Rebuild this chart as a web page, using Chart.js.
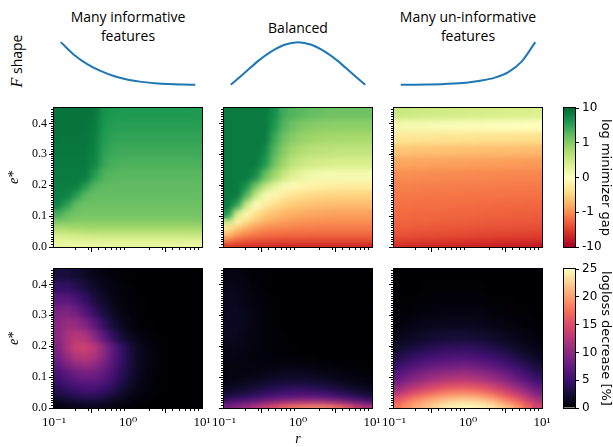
<!DOCTYPE html>
<html>
<head>
<meta charset="utf-8">
<script src="https://cdn.jsdelivr.net/npm/chart.js@4.4.1/dist/chart.umd.min.js"></script>
<style>
  html, body { margin: 0; padding: 0; background: #fff; }
  #fig { position: relative; width: 613px; height: 447px; overflow: hidden; }
  #fig canvas { position: absolute; left: 0; top: 0; }
  .ttl { position: absolute; width: 170px; font-family: 'Open Sans', sans-serif; font-size: 14px;
         line-height: 19px; text-align: center; color: #000; white-space: nowrap; }
  #fshape { position: absolute; left: -28px; top: 51px; width: 90px; height: 20px; line-height: 20px;
            text-align: center; transform: rotate(-90deg); font-family: 'Open Sans', sans-serif;
            font-size: 14px; white-space: nowrap; }
  #fshape i { font-family: 'Liberation Serif', serif; font-size: 16px; }
</style>
</head>
<body>
<div id="fig">
  <div class="ttl" style="left:43px;top:7px">Many informative<br>features</div>
  <div class="ttl" style="left:213px;top:18px">Balanced</div>
  <div class="ttl" style="left:383px;top:7px">Many un-informative<br>features</div>
  <div id="fshape"><i>F</i> shape</div>
</div>
<script>
// grid of the heatmaps: r column centres (log spaced) and e* row edges
const rCenters = [0.115, 0.154, 0.205, 0.274, 0.365, 0.487, 0.649, 0.866, 1.155, 1.54, 2.05, 2.74, 3.65, 4.87, 6.49, 8.66];
const eEdges = [0, 0.01, 0.02, 0.035, 0.05, 0.07, 0.09, 0.12, 0.15, 0.18, 0.21, 0.25, 0.29, 0.33, 0.37, 0.41, 0.45];
const yTicks = [0, 0.1, 0.2, 0.3, 0.4];
const xTicks = [0.1, 1, 10];
const xTickLabels = ['10⁻¹', '10⁰', '10¹'];
const gapTicks = [-10, -1, 0, 1, 10];
const decTicks = [0, 5, 10, 15, 20, 25];

// F shape curves
const fShapeX = [0, 0.1, 0.2, 0.3, 0.4, 0.5, 0.6, 0.7, 0.8, 0.9, 1];
const fMany = [1.0, 0.70, 0.48, 0.32, 0.20, 0.12, 0.07, 0.04, 0.02, 0.008, 0];
const fBalanced = [0, 0.27, 0.55, 0.78, 0.94, 1, 0.94, 0.78, 0.55, 0.27, 0];
const fUninf = [0, 0.003, 0.008, 0.015, 0.03, 0.055, 0.1, 0.17, 0.3, 0.55, 1.0];

// log minimizer gap, rows from e*=0 upwards
const gapMany = [
  [0.18,0.18,0.19,0.19,0.2,0.2,0.2,0.2,0.2,0.2,0.2,0.2,0.19,0.19,0.18,0.18],
  [0.24,0.25,0.26,0.27,0.28,0.29,0.3,0.3,0.3,0.3,0.3,0.3,0.3,0.3,0.3,0.3],
  [0.34,0.36,0.38,0.4,0.41,0.42,0.42,0.42,0.42,0.42,0.42,0.42,0.42,0.42,0.42,0.42],
  [0.5,0.53,0.56,0.58,0.6,0.6,0.6,0.6,0.6,0.6,0.6,0.6,0.6,0.6,0.6,0.6],
  [0.75,0.78,0.8,0.82,0.82,0.82,0.82,0.82,0.82,0.82,0.82,0.82,0.82,0.82,0.82,0.82],
  [1.1,1.05,1,1,1,1,1,1,1,1,1,1,1,1,1,1],
  [2.5,1.6,1.3,1.26,1.26,1.26,1.26,1.26,1.26,1.26,1.26,1.26,1.26,1.26,1.26,1.26],
  [6,3.2,1.6,1.45,1.45,1.45,1.45,1.45,1.45,1.45,1.45,1.45,1.45,1.45,1.45,1.45],
  [6.3,6.3,3.5,1.8,1.6,1.6,1.6,1.6,1.6,1.6,1.6,1.6,1.6,1.6,1.6,1.6],
  [6.6,6.6,6.6,3.5,1.9,1.7,1.68,1.68,1.68,1.68,1.68,1.68,1.68,1.68,1.68,1.68],
  [7,7,7,7,3.5,2.1,1.9,1.85,1.85,1.85,1.85,1.85,1.85,1.85,1.85,1.85],
  [7.2,7.2,7.2,7.2,5.5,2.8,2.3,2.2,2.2,2.2,2.2,2.2,2.2,2.2,2.2,2.2],
  [7.4,7.4,7.4,7.4,6,3.2,2.7,2.6,2.6,2.6,2.6,2.6,2.6,2.6,2.6,2.6],
  [7.6,7.6,7.6,7.6,6.5,3.6,3.1,3,3,3,3,3,3,3,3,3],
  [7.9,7.9,7.9,7.9,7,4,3.5,3.4,3.4,3.4,3.4,3.4,3.4,3.4,3.4,3.4],
  [7.9,7.9,7.9,7.9,7.5,4.5,3.9,3.8,3.8,3.8,3.8,3.8,3.8,3.8,3.8,3.8]
];
const gapBalanced = [
  [-3.5,-3.8,-4,-4.2,-4.4,-4.6,-4.8,-5,-5,-5,-5,-5,-5,-5,-5,-5],
  [-1.6,-2,-2.4,-2.6,-2.7,-2.8,-2.8,-2.8,-2.8,-2.8,-2.8,-2.8,-2.8,-2.8,-2.8,-2.8],
  [-0.9,-1.26,-1.6,-1.8,-1.95,-2.05,-2.1,-2.1,-2.1,-2.1,-2.1,-2.1,-2.1,-2.1,-2.1,-2.1],
  [-0.6,-0.85,-1,-1.2,-1.35,-1.45,-1.52,-1.58,-1.62,-1.64,-1.66,-1.66,-1.66,-1.66,-1.66,-1.66],
  [-0.3,-0.55,-0.75,-0.9,-1,-1.07,-1.12,-1.16,-1.2,-1.22,-1.24,-1.26,-1.26,-1.26,-1.26,-1.26],
  [0.5,-0.12,-0.42,-0.62,-0.75,-0.84,-0.9,-0.94,-0.96,-0.98,-0.99,-1,-1,-1,-1,-1],
  [4,0.4,-0.1,-0.38,-0.55,-0.66,-0.74,-0.79,-0.82,-0.84,-0.86,-0.87,-0.88,-0.88,-0.88,-0.88],
  [7.1,3.2,0.5,0,-0.22,-0.4,-0.5,-0.57,-0.61,-0.64,-0.66,-0.67,-0.68,-0.68,-0.68,-0.68],
  [7.1,7.1,2,0.55,0.1,-0.1,-0.25,-0.35,-0.41,-0.45,-0.47,-0.48,-0.49,-0.5,-0.5,-0.5],
  [7.1,7.1,4.5,1.26,0.6,0.3,0.1,-0.05,-0.12,-0.17,-0.2,-0.22,-0.23,-0.24,-0.25,-0.25],
  [7.1,7.1,7.1,5,1.6,0.85,0.55,0.35,0.22,0.16,0.13,0.11,0.1,0.1,0.1,0.1],
  [7.1,7.1,7.1,7.1,4,1.4,0.85,0.62,0.52,0.46,0.43,0.41,0.4,0.4,0.4,0.4],
  [7.1,7.1,7.1,7.1,5.6,2,1,0.82,0.72,0.66,0.63,0.61,0.6,0.6,0.6,0.6],
  [7.1,7.1,7.1,7.1,7.1,2.8,1.4,1,0.9,0.85,0.82,0.8,0.79,0.78,0.78,0.78],
  [7.1,7.1,7.1,7.1,7.1,4,2,1.4,1.12,1,0.97,0.96,0.95,0.95,0.95,0.95],
  [7.1,7.1,7.1,7.1,7.1,5,2.5,2,1.8,1.6,1.5,1.4,1.4,1.4,1.4,1.4]
];
const gapUninf = [
  [-4.5,-4.6,-4.7,-4.8,-4.9,-5,-5.1,-5.2,-5.3,-5.4,-5.5,-5.6,-5.8,-6,-6.1,-6.3],
  [-3.2,-3.28,-3.36,-3.44,-3.52,-3.6,-3.68,-3.76,-3.84,-3.92,-4,-4.1,-4.2,-4.3,-4.4,-4.5],
  [-2.6,-2.66,-2.72,-2.78,-2.84,-2.9,-2.96,-3.02,-3.08,-3.14,-3.2,-3.26,-3.32,-3.38,-3.44,-3.5],
  [-2.24,-2.28,-2.33,-2.38,-2.43,-2.48,-2.53,-2.58,-2.63,-2.68,-2.73,-2.78,-2.83,-2.88,-2.92,-2.95],
  [-2,-2.03,-2.07,-2.1,-2.14,-2.18,-2.22,-2.26,-2.3,-2.33,-2.36,-2.4,-2.43,-2.46,-2.48,-2.5],
  [-1.8,-1.82,-1.85,-1.88,-1.9,-1.93,-1.96,-1.99,-2.02,-2.05,-2.08,-2.1,-2.13,-2.16,-2.18,-2.2],
  [-1.66,-1.68,-1.7,-1.72,-1.74,-1.76,-1.78,-1.8,-1.82,-1.84,-1.86,-1.88,-1.9,-1.92,-1.94,-1.95],
  [-1.5,-1.5,-1.52,-1.54,-1.55,-1.57,-1.59,-1.6,-1.62,-1.64,-1.66,-1.68,-1.7,-1.71,-1.73,-1.74],
  [-1.35,-1.36,-1.37,-1.38,-1.39,-1.4,-1.41,-1.42,-1.43,-1.44,-1.45,-1.46,-1.47,-1.48,-1.49,-1.5],
  [-1.2,-1.2,-1.21,-1.22,-1.23,-1.24,-1.25,-1.26,-1.27,-1.28,-1.29,-1.3,-1.3,-1.31,-1.32,-1.32],
  [-1,-1,-1.01,-1.02,-1.03,-1.04,-1.05,-1.06,-1.07,-1.08,-1.09,-1.1,-1.1,-1.11,-1.12,-1.12],
  [-0.85,-0.85,-0.86,-0.86,-0.87,-0.87,-0.88,-0.88,-0.89,-0.89,-0.9,-0.9,-0.91,-0.91,-0.92,-0.92],
  [-0.62,-0.62,-0.63,-0.64,-0.64,-0.65,-0.65,-0.66,-0.66,-0.67,-0.67,-0.68,-0.68,-0.69,-0.69,-0.7],
  [-0.3,-0.31,-0.32,-0.33,-0.34,-0.35,-0.35,-0.36,-0.36,-0.37,-0.37,-0.38,-0.38,-0.39,-0.39,-0.4],
  [0.12,0.11,0.1,0.09,0.08,0.07,0.06,0.05,0.05,0.04,0.03,0.02,0.02,0.01,0,0],
  [0.52,0.51,0.5,0.49,0.48,0.47,0.46,0.45,0.44,0.43,0.42,0.41,0.4,0.4,0.39,0.38]
];

// logloss decrease [%], rows from e*=0 upwards
const decMany = [
  [0.5,0.8,1,1.2,1.2,1,0.7,0.4,0.2,0.1,0,0,0,0,0,0],
  [1.2,1.6,2,2.2,2.2,1.8,1.2,0.7,0.4,0.2,0.1,0,0,0,0,0],
  [2,2.6,3,3.3,3.3,2.8,2,1.2,0.6,0.3,0.1,0,0,0,0,0],
  [3,3.6,4.2,4.5,4.5,3.8,2.8,1.8,0.9,0.4,0.2,0.1,0,0,0,0],
  [3.8,4.6,5.3,5.7,5.6,4.9,3.8,2.5,1.4,0.7,0.3,0.1,0,0,0,0],
  [4.6,5.6,6.4,6.9,6.8,6,4.6,3.1,1.8,0.9,0.4,0.1,0,0,0,0],
  [5.4,6.6,7.6,8.2,8,7,5.4,3.6,2.1,1.1,0.5,0.2,0,0,0,0],
  [7,8.6,10,10.6,10,8.4,6.2,4.1,2.4,1.2,0.6,0.2,0,0,0,0],
  [8.4,10.6,12.3,12.8,11.8,9.6,6.9,4.5,2.5,1.2,0.6,0.2,0,0,0,0],
  [9.2,11.8,13.6,14,12.6,9.8,6.9,4.3,2.4,1.2,0.6,0.2,0,0,0,0],
  [9.6,11.6,12.6,11.8,9.6,6.8,4.2,2.4,1.2,0.6,0.2,0.1,0,0,0,0],
  [9.6,10.6,10.4,9,6.8,4.4,2.5,1.2,0.5,0.2,0.1,0,0,0,0,0],
  [8.8,9.1,8.2,6.3,4.4,2.7,1.4,0.7,0.3,0.1,0,0,0,0,0,0],
  [6.8,6.8,5.8,4.3,2.9,1.7,0.9,0.4,0.2,0.1,0,0,0,0,0,0],
  [4.5,4.4,3.7,2.7,1.8,1.1,0.6,0.3,0.1,0,0,0,0,0,0,0],
  [2.8,2.7,2.2,1.6,1,0.6,0.3,0.1,0,0,0,0,0,0,0,0]
];
const decBalanced = [
  [9,10,11,12.5,14,15.5,17,18,18.5,19,19,18.5,17.5,16,14,12],
  [6.5,7.3,8.2,9,10,10.8,11.6,12.2,12.6,12.8,12.6,12,11,9.8,8.5,7.4],
  [4,4.6,5.2,5.8,6.5,7.2,7.8,8.2,8.4,8.4,8.1,7.6,6.8,6,5,4.2],
  [2.6,3,3.5,4,4.6,5.2,5.7,6,6.1,6,5.7,5.2,4.5,3.8,3.1,2.5],
  [1.6,1.9,2.3,2.7,3.2,3.7,4.1,4.3,4.3,4.1,3.8,3.3,2.8,2.3,1.8,1.4],
  [0.9,1.1,1.4,1.7,2.1,2.4,2.7,2.8,2.8,2.6,2.3,2,1.6,1.2,0.9,0.7],
  [0.6,0.6,0.7,0.9,1.1,1.3,1.5,1.5,1.5,1.4,1.2,1,0.8,0.6,0.4,0.3],
  [0.6,0.5,0.5,0.5,0.5,0.6,0.6,0.6,0.6,0.5,0.4,0.3,0.2,0.1,0.1,0.1],
  [0.9,0.8,0.6,0.4,0.3,0.2,0.2,0.2,0.1,0.1,0,0,0,0,0,0],
  [1.2,1,0.7,0.5,0.3,0.2,0.1,0.1,0,0,0,0,0,0,0,0],
  [1.5,1.3,0.9,0.6,0.3,0.2,0.1,0,0,0,0,0,0,0,0,0],
  [1.6,1.4,1,0.6,0.3,0.1,0,0,0,0,0,0,0,0,0,0],
  [1.6,1.4,1,0.6,0.3,0.1,0,0,0,0,0,0,0,0,0,0],
  [1.4,1.2,0.8,0.5,0.2,0.1,0,0,0,0,0,0,0,0,0,0],
  [1.1,0.9,0.6,0.3,0.1,0,0,0,0,0,0,0,0,0,0,0],
  [0.8,0.6,0.4,0.2,0.1,0,0,0,0,0,0,0,0,0,0,0]
];
const decUninf = [
  [18,19.5,21,22,23,24,24.5,24.8,24.8,24.5,24,23,21.5,19.5,17,14.5],
  [17,18.5,20,21,22,23,23.5,23.8,23.8,23.5,22.5,21,19.5,17.5,15.5,13],
  [15.5,17,18.5,19.5,20.5,21.3,21.8,22,21.8,21.3,20.3,19,17.3,15.5,13.5,11.2],
  [13,14.5,16,17,18,18.8,19.3,19.5,19.3,18.8,17.8,16.5,15,13.3,11.4,9.4],
  [10.8,12.2,13.5,14.6,15.5,16.2,16.6,16.8,16.6,16.1,15.2,14,12.6,11,9.4,7.6],
  [8.6,9.8,11,12,12.8,13.4,13.8,14,13.8,13.3,12.5,11.4,10.2,8.8,7.3,5.8],
  [6.8,7.8,8.8,9.6,10.3,10.8,11.1,11.2,11,10.6,9.9,9,7.9,6.7,5.5,4.2],
  [4.8,5.6,6.4,7.1,7.6,8,8.2,8.3,8.1,7.7,7.1,6.4,5.5,4.6,3.6,2.6],
  [3.2,3.8,4.5,5,5.4,5.7,5.9,6,5.8,5.5,5,4.4,3.7,2.9,2.2,1.5],
  [2,2.4,2.9,3.3,3.7,4,4.1,4.2,4.1,3.8,3.4,2.9,2.3,1.8,1.2,0.8],
  [1,1.3,1.6,1.9,2.2,2.4,2.5,2.5,2.4,2.2,1.9,1.6,1.2,0.9,0.6,0.4],
  [0.4,0.6,0.8,1,1.1,1.2,1.3,1.3,1.2,1.1,0.9,0.7,0.5,0.4,0.2,0.1],
  [0.2,0.2,0.3,0.4,0.5,0.5,0.6,0.6,0.5,0.5,0.4,0.3,0.2,0.1,0.1,0],
  [0.1,0.1,0.1,0.2,0.2,0.2,0.2,0.2,0.2,0.2,0.1,0.1,0.1,0,0,0],
  [0,0,0,0.1,0.1,0.1,0.1,0.1,0.1,0.1,0,0,0,0,0,0],
  [0,0,0,0,0,0,0,0,0,0,0,0,0,0,0,0]
];

// colour maps
const rdylgn = ['#a50026','#d73027','#f46d43','#fdae61','#fee08b','#ffffbf','#d9ef8b','#a6d96a','#66bd63','#1a9850','#006837'];
const magma = ['#000004','#140e36','#3b0f70','#641a80','#8c2981','#b73779','#de4968','#f7705c','#fe9f6d','#fecf92','#fcfdbf'];

function hex(h) { return [1, 3, 5].map(i => parseInt(h.substr(i, 2), 16)); }
function cmap(stops, t) {
  t = Math.min(1, Math.max(0, t));
  const f = t * (stops.length - 1);
  const i = Math.min(stops.length - 2, Math.floor(f));
  const a = hex(stops[i]), b = hex(stops[i + 1]), u = f - i;
  const c = a.map((v, k) => Math.round(v + (b[k] - v) * u));
  return `rgb(${c[0]},${c[1]},${c[2]})`;
}
function symlog(v) { const a = Math.abs(v); return Math.sign(v) * (a <= 1 ? a : 1 + Math.log10(a)); }
const gapColor = v => cmap(rdylgn, (symlog(v) + 2) / 4);
const decColor = v => cmap(magma, v / 25);

Chart.defaults.animation = false;
Chart.defaults.events = [];
Chart.defaults.responsive = false;
Chart.defaults.plugins.legend.display = false;
Chart.defaults.plugins.tooltip.enabled = false;

const W = 613, H = 447;
const serif = "'Liberation Serif', 'DejaVu Serif', serif";
const sans = "'DejaVu Sans', sans-serif";
const fig = document.getElementById('fig');

function newCtx() {
  const c = document.createElement('canvas');
  c.width = W; c.height = H;
  c.style.width = W + 'px'; c.style.height = H + 'px';
  fig.appendChild(c);
  return c.getContext('2d');
}

// soften the cell edges like an interpolated image (blurred copy laid over the sharp one)
const smoothPlugin = {
  id: 'smooth',
  afterDatasetsDraw(chart, args, opts) {
    if (!opts.blur) return;
    const { ctx, chartArea: a, canvas } = chart;
    const w = a.right - a.left, h = a.bottom - a.top;
    const off = document.createElement('canvas');
    off.width = canvas.width; off.height = canvas.height;
    off.getContext('2d').drawImage(canvas, 0, 0);
    ctx.save();
    ctx.beginPath(); ctx.rect(a.left, a.top, w, h); ctx.clip();
    ctx.filter = `blur(${opts.blur}px)`;
    ctx.drawImage(off, a.left, a.top, w, h, a.left, a.top, w, h);
    ctx.restore();
  }
};

// frame around the plot area plus minor ticks
const framePlugin = {
  id: 'frame',
  afterDraw(chart, args, opts) {
    const { ctx, chartArea: a } = chart;
    ctx.save();
    ctx.strokeStyle = '#000';
    ctx.lineWidth = 1;
    ctx.strokeRect(a.left - 0.5, a.top - 0.5, a.right - a.left + 1, a.bottom - a.top + 1);
    if (opts.minor) {
      const xs = chart.scales.x, ys = chart.scales.y;
      ctx.beginPath();
      for (const d of [0.1, 1]) {
        for (let k = 2; k < 10; k++) {
          const px = Math.round(xs.getPixelForValue(k * d)) - 0.5;
          ctx.moveTo(px, a.bottom); ctx.lineTo(px, a.bottom + 3);
        }
      }
      for (let i = 1; i < 60; i++) {
        const py = Math.round(ys.getPixelForValue(i * 0.0075)) - 0.5;
        ctx.moveTo(a.left, py); ctx.lineTo(a.left - 3, py);
      }
      ctx.stroke();
    }
    ctx.restore();
  }
};

function heatmap(x0, y0, values, colorOf, showY, showX, xTitle) {
  const rowH = eEdges.slice(1).map((e, i) => e - eEdges[i]);
  const xH = showX ? 40 : 20;
  const datasets = values.map((row, i) => ({
    data: rCenters.map(() => rowH[i]),
    backgroundColor: row.map(colorOf),
    xAxisID: 'xc', yAxisID: 'y',
    barPercentage: 1, categoryPercentage: 1,
    borderWidth: 0, inflateAmount: 0.7
  }));
  new Chart(newCtx(), {
    type: 'bar',
    data: { labels: rCenters.map(String), datasets },
    options: {
      layout: { padding: { left: x0 - 54, top: y0, right: W - x0 - 148, bottom: H - y0 - 139 - xH } },
      scales: {
        xc: { type: 'category', display: false, stacked: true, offset: true },
        x: {
          type: 'logarithmic', position: 'bottom', min: 0.1, max: 10,
          afterBuildTicks: s => { s.ticks = xTicks.map(v => ({ value: v })); },
          afterFit: s => { s.height = xH; },
          ticks: { callback: (v, i) => showX ? xTickLabels[i] : '', font: { family: serif, size: 13 },
                   color: '#000', padding: 2, maxRotation: 0, autoSkip: false },
          grid: { drawOnChartArea: false, tickLength: 5, color: '#000' },
          border: { display: false },
          title: { display: !!xTitle, text: xTitle || '', color: '#000',
                   font: { family: serif, size: 14, style: 'italic' }, padding: { top: 0, bottom: 0 } }
        },
        y: {
          type: 'linear', min: 0, max: 0.45, stacked: true,
          afterBuildTicks: s => { s.ticks = yTicks.map(v => ({ value: v })); },
          afterFit: s => { s.width = 54; },
          ticks: { callback: (v, i) => showY ? yTicks[i].toFixed(1) : '', font: { family: serif, size: 12 },
                   color: '#000', padding: 2 },
          grid: { drawOnChartArea: false, tickLength: 5, color: '#000' },
          border: { display: false },
          title: { display: showY, text: 'e*', color: '#000',
                   font: { family: serif, size: 14, style: 'italic' }, padding: { top: 6, bottom: 0 } }
        }
      },
      plugins: { frame: { minor: true }, smooth: { blur: 3 } }
    },
    plugins: [smoothPlugin, framePlugin]
  });
}

function shapeChart(x0, ys) {
  new Chart(newCtx(), {
    type: 'line',
    data: { datasets: [{
      data: fShapeX.map((x, i) => ({ x, y: ys[i] })),
      borderColor: '#1f77b4', borderWidth: 2, pointRadius: 0,
      cubicInterpolationMode: 'monotone', fill: false
    }] },
    options: {
      layout: { padding: { left: x0, right: W - x0 - 148, top: 40, bottom: H - 87 } },
      scales: {
        x: { type: 'linear', display: false, min: -0.05, max: 1.05 },
        y: { display: false, min: -0.05, max: 1.05 }
      }
    }
  });
}

function colorbar(y0, stops, lo, hi, tickPos, tickLabels, title) {
  new Chart(newCtx(), {
    type: 'bar',
    data: { labels: [''], datasets: [{
      data: [[lo, hi]],
      backgroundColor: c => {
        const a = c.chart.chartArea;
        if (!a) return 'transparent';
        const g = c.chart.ctx.createLinearGradient(0, a.bottom, 0, a.top);
        stops.forEach((s, i) => g.addColorStop(i / (stops.length - 1), s));
        return g;
      },
      borderWidth: 0, barPercentage: 1, categoryPercentage: 1, inflateAmount: 0
    }] },
    options: {
      layout: { padding: { left: 564, top: y0, right: 0, bottom: H - y0 - 139 } },
      scales: {
        x: { display: false },
        y: {
          position: 'right', min: lo, max: hi,
          afterBuildTicks: s => { s.ticks = tickPos.map(v => ({ value: v })); },
          afterFit: s => { s.width = 38; },
          ticks: { callback: (v, i) => tickLabels[i], font: { family: sans, size: 12 }, color: '#000', padding: 3 },
          grid: { drawOnChartArea: false, tickLength: 4, color: '#000' },
          border: { display: false },
          title: { display: true, text: title, color: '#000', font: { family: sans, size: 13 },
                   padding: { top: 0, bottom: 0 } }
        }
      },
      plugins: { frame: { minor: false } }
    },
    plugins: [framePlugin]
  });
}

const colX = [54, 224, 394];
shapeChart(colX[0], fMany);
shapeChart(colX[1], fBalanced);
shapeChart(colX[2], fUninf);

heatmap(colX[0], 108, gapMany, gapColor, true, false);
heatmap(colX[1], 108, gapBalanced, gapColor, false, false);
heatmap(colX[2], 108, gapUninf, gapColor, false, false);
heatmap(colX[0], 269, decMany, decColor, true, true);
heatmap(colX[1], 269, decBalanced, decColor, false, true, 'r');
heatmap(colX[2], 269, decUninf, decColor, false, true);

colorbar(108, rdylgn, -2, 2, gapTicks.map(symlog), gapTicks.map(String), 'log minimizer gap');
colorbar(269, magma, 0, 25, decTicks, decTicks.map(String), 'logloss decrease [%]');
</script>
</body>
</html>
